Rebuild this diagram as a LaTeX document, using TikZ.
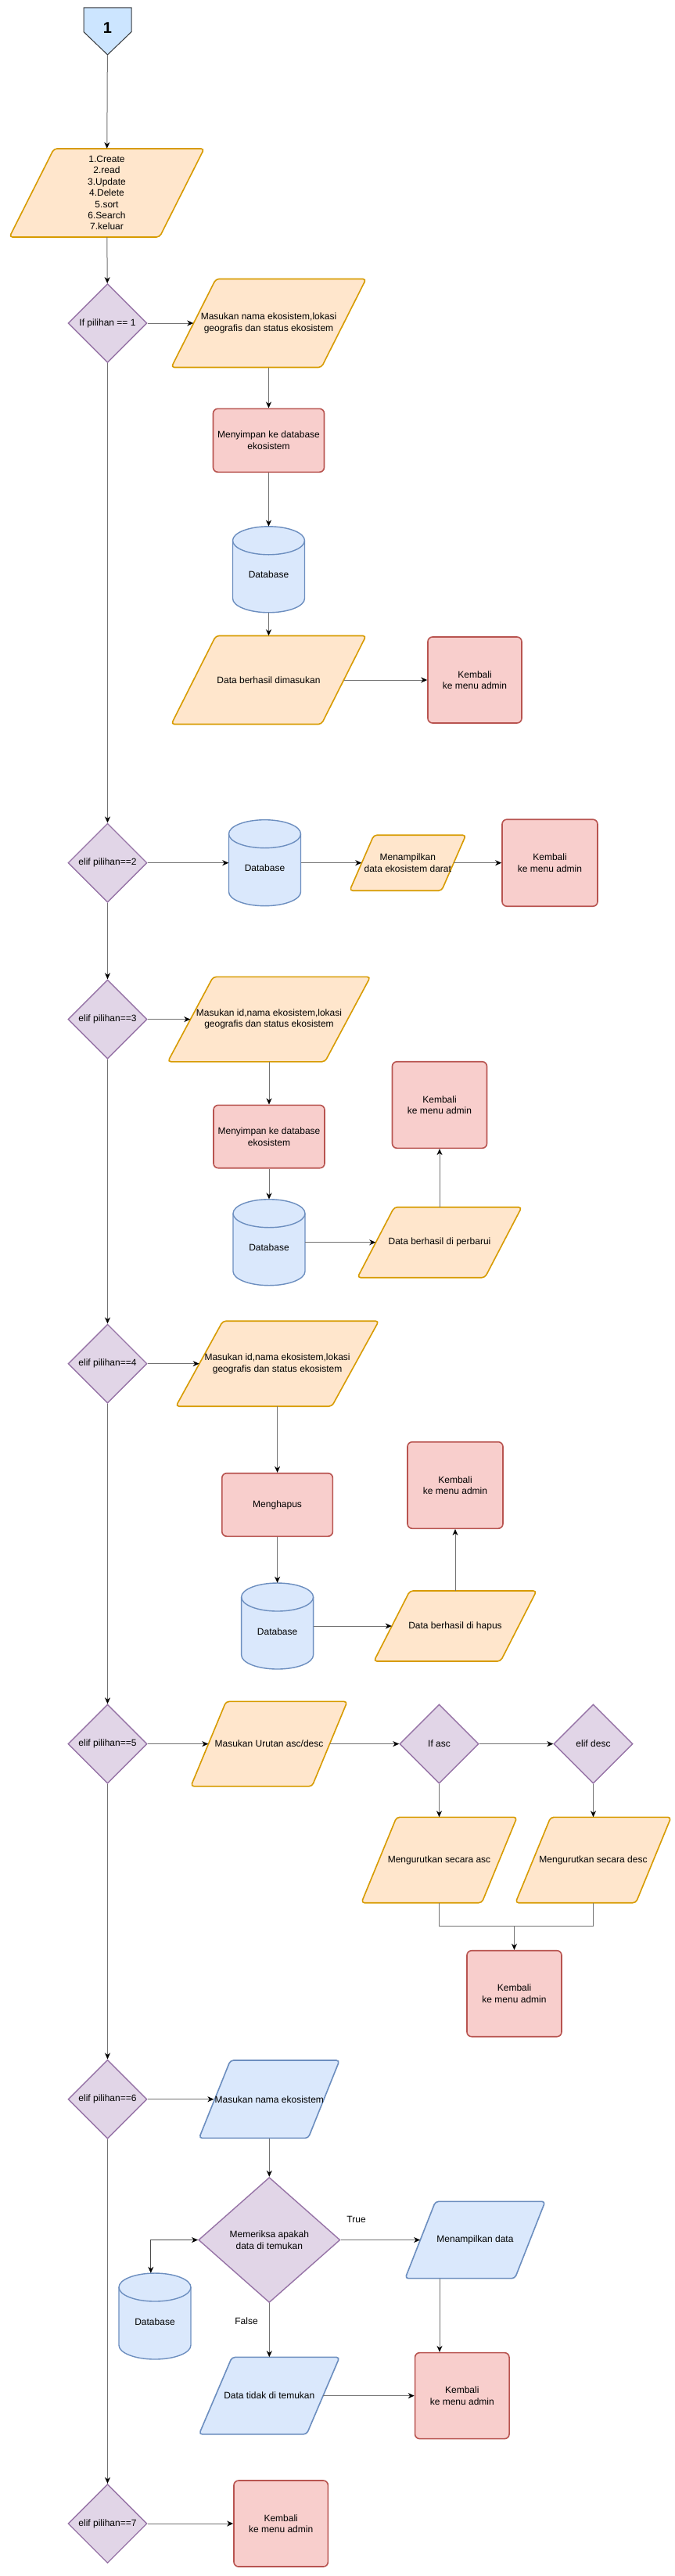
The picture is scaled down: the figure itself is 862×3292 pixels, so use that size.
\documentclass[tikz,border=0pt]{standalone}
\usepackage{fontspec}
\setmainfont{Liberation Sans}
\usetikzlibrary{arrows.meta,shapes.geometric}

\definecolor{orfill}{HTML}{FFE6CC}
\definecolor{orline}{HTML}{D79B00}
\definecolor{rdfill}{HTML}{F8CECC}
\definecolor{rdline}{HTML}{B85450}
\definecolor{blfill}{HTML}{DAE8FC}
\definecolor{blline}{HTML}{6C8EBF}
\definecolor{pufill}{HTML}{E1D5E7}
\definecolor{puline}{HTML}{9673A6}
\definecolor{pgfill}{HTML}{CCE5FF}
\definecolor{pgline}{HTML}{36393D}

\tikzset{
  flow/.style={draw=black!55, line width=1pt, -{Stealth[length=8pt,width=7pt,inset=2.5pt,color=black]}},
  flowboth/.style={draw=black!70, line width=1pt, {Stealth[length=8pt,width=7pt,inset=2.5pt,color=black]}-{Stealth[length=8pt,width=7pt,inset=2.5pt,color=black]}},
  joinline/.style={draw=black!55, line width=1pt},
  process/.style={rectangle, rounded corners=6pt, draw=rdline, fill=rdfill, line width=1.6pt, align=center},
  decision/.style={diamond, aspect=1, draw=puline, fill=pufill, line width=1.4pt, inner sep=1pt,
    minimum width=101pt, minimum height=101pt, align=center},
  orio/.style={draw=orline, fill=orfill},
  blio/.style={draw=blline, fill=blfill},
  iotext/.style={inner sep=1pt, align=center},
  dbbody/.style={draw=blline, fill=blfill, line width=1.4pt},
}

% input/output box: name, cx, cy, width, height, slant, colour, text
\newcommand{\ioshape}[8]{%
  \path[#7, line width=1.6pt, rounded corners=4pt]
    ({#2-#4/2+#6},{#3-#5/2}) -- ({#2+#4/2},{#3-#5/2}) -- ({#2+#4/2-#6},{#3+#5/2}) -- ({#2-#4/2},{#3+#5/2}) -- cycle;
  \node[iotext, minimum width={#4-#6}, minimum height=#5] (#1) at (#2,#3) {#8};
}

% database cylinder: name, cx, cy
\newcommand{\dbshape}[3]{%
  \path[dbbody] ({#2-46},{#3-37}) -- ({#2-46},{#3+37})
    arc[start angle=180, end angle=360, x radius=46pt, y radius=18pt]
    -- ({#2+46},{#3-37})
    arc[start angle=0, end angle=180, x radius=46pt, y radius=18pt] -- cycle;
  \draw[dbbody, fill=none] ({#2-46},{#3-37})
    arc[start angle=180, end angle=360, x radius=46pt, y radius=18pt];
  \node[minimum width=92pt, minimum height=110pt, text height=22pt, text depth=0pt] (#1) at (#2,#3) {Database};
}

\begin{document}
\begin{tikzpicture}[x=1pt, y=-1pt, font=\fontsize{12}{14.4}\selectfont]
  \useasboundingbox (0,0) rectangle (862,3292);

  % Start connector
  \path[draw=pgline, fill=pgfill, line width=1pt]
    (107,10) -- (168,10) -- (168,40.7) -- (137.5,70) -- (107,40.7) -- cycle;
  \node[font=\fontsize{20}{24}\selectfont\bfseries, minimum width=61pt, minimum height=60pt,
    inner sep=0pt, text depth=8pt] (start) at (137.5,40) {1};

  % Menu
  \ioshape{menu}{136.5}{246.5}{249}{113}{57}{orio}{1.Create\\2.read\\3.Update\\4.Delete\\5.sort\\6.Search\\7.keluar}

  % Pilihan 1
  \node[decision] (d1) at (137.5,413) {If pilihan == 1};
  \ioshape{in1}{343.5}{413}{249}{113}{57}{orio}{Masukan nama ekosistem,lokasi\\geografis dan status ekosistem}
  \node[process, minimum width=142pt, minimum height=81pt] (save1) at (343.5,562.8) {Menyimpan ke database\\ekosistem};
  \dbshape{db1}{343.5}{727.8}
  \ioshape{out1}{343.5}{869}{249}{113}{57}{orio}{Data berhasil dimasukan}
  \node[process, minimum width=120pt, minimum height=110pt] (back1) at (607,869) {Kembali\\ke menu admin};

  % Pilihan 2
  \node[decision] (d2) at (137.5,1102.7) {elif pilihan==2};
  \dbshape{db2}{338.5}{1102.7}
  \ioshape{show2}{521.3}{1102.7}{148.6}{71}{31}{orio}{Menampilkan\\data ekosistem darat}
  \node[process, minimum width=122pt, minimum height=111pt] (back2) at (703,1102.7) {Kembali\\ke menu admin};

  % Pilihan 3
  \node[decision] (d3) at (137.5,1302.6) {elif pilihan==3};
  \ioshape{in3}{344}{1302.6}{259}{108.4}{58}{orio}{Masukan id,nama ekosistem,lokasi\\geografis dan status ekosistem}
  \node[process, minimum width=142pt, minimum height=80.4pt] (save3) at (344,1452.5) {Menyimpan ke database\\ekosistem};
  \dbshape{db3}{344}{1587.7}
  \ioshape{out3}{562}{1587.7}{210}{90}{47}{orio}{Data berhasil di perbarui}
  \node[process, minimum width=121pt, minimum height=110.6pt] (back3) at (562,1412) {Kembali\\ke menu admin};

  % Pilihan 4
  \node[decision] (d4) at (137.5,1742.7) {elif pilihan==4};
  \ioshape{in4}{354.6}{1742.7}{259.4}{109}{60}{orio}{Masukan id,nama ekosistem,lokasi\\geografis dan status ekosistem}
  \node[process, minimum width=141.6pt, minimum height=80.6pt] (del4) at (354.6,1923) {Menghapus};
  \dbshape{db4}{354.6}{2078}
  \ioshape{out4}{582}{2078}{208}{90}{46}{orio}{Data berhasil di hapus}
  \node[process, minimum width=122pt, minimum height=110.6pt] (back4) at (582,1898) {Kembali\\ke menu admin};

  % Pilihan 5
  \node[decision] (d5) at (137.5,2228.6) {elif pilihan==5};
  \ioshape{in5}{344}{2228.6}{200}{108.4}{45}{orio}{Masukan Urutan asc/desc}
  \node[decision] (asc) at (561.5,2228.6) {If asc};
  \node[decision] (desc) at (758.5,2228.6) {elif desc};
  \ioshape{sortasc}{561.5}{2377}{199}{109.4}{45}{orio}{Mengurutkan secara asc}
  \ioshape{sortdesc}{758.5}{2377}{199}{109.4}{45}{orio}{Mengurutkan secara desc}
  \node[process, minimum width=121pt, minimum height=110pt] (back5) at (657.5,2547.7) {Kembali\\ke menu admin};
  \coordinate (merge) at (657.5,2461.7);

  % Pilihan 6
  \node[decision] (d6) at (137.5,2682.7) {elif pilihan==6};
  \ioshape{in6}{344.3}{2682.7}{179.6}{99.4}{40}{blio}{Masukan nama ekosistem}
  \node[decision, minimum width=181pt, minimum height=160pt] (chk) at (344.3,2862.5) {Memeriksa apakah\\data di temukan};
  \ioshape{found}{607.5}{2862.5}{179}{98.3}{38.7}{blio}{Menampilkan data}
  \dbshape{db5}{198}{2960}
  \ioshape{notfound}{344.3}{3061.6}{179.6}{98.4}{42}{blio}{Data tidak di temukan}
  \node[process, minimum width=120.5pt, minimum height=110pt] (back6) at (590.8,3061.6) {Kembali\\ke menu admin};
  \node (ltrue) at (455.6,2836) {True};
  \node (lfalse) at (315,2966) {False};
  \coordinate (fx) at (562,0);
  \coordinate (dbx) at (192.8,0);

  % Pilihan 7
  \node[decision] (d7) at (137.5,3225) {elif pilihan==7};
  \node[process, minimum width=120.4pt, minimum height=110pt] (back7) at (359.2,3225) {Kembali\\ke menu admin};

  % Main line
  \draw[flow] (start) -- (menu);
  \draw[flow] (menu) -- (d1);
  \draw[flow] (d1) -- (d2);
  \draw[flow] (d2) -- (d3);
  \draw[flow] (d3) -- (d4);
  \draw[flow] (d4) -- (d5);
  \draw[flow] (d5) -- (d6);
  \draw[flow] (d6) -- (d7);

  % Branches
  \draw[flow] (d1) -- (in1.west);
  \draw[flow] (in1) -- (save1);
  \draw[flow] (save1) -- (db1);
  \draw[flow] (db1) -- (out1);
  \draw[flow] (out1.east) -- (back1);

  \draw[flow] (d2) -- (db2);
  \draw[flow] (db2) -- (show2.west);
  \draw[flow] (show2.east) -- (back2);

  \draw[flow] (d3) -- (in3.west);
  \draw[flow] (in3) -- (save3);
  \draw[flow] (save3) -- (db3);
  \draw[flow] (db3) -- (out3.west);
  \draw[flow] (out3) -- (back3);

  \draw[flow] (d4) -- (in4.west);
  \draw[flow] (in4) -- (del4);
  \draw[flow] (del4) -- (db4);
  \draw[flow] (db4) -- (out4.west);
  \draw[flow] (out4) -- (back4);

  \draw[flow] (d5) -- (in5.west);
  \draw[flow] (in5.east) -- (asc);
  \draw[flow] (asc) -- (desc);
  \draw[flow] (asc) -- (sortasc);
  \draw[flow] (desc) -- (sortdesc);
  \draw[joinline] (sortasc.south) |- (merge) -| (sortdesc.south);
  \draw[flow] (merge) -- (back5);

  \draw[flow] (d6) -- (in6.west);
  \draw[flow] (in6) -- (chk);
  \draw[flow] (chk) -- (found.west);
  \draw[flowboth] (db5.north -| dbx) |- (chk.west);
  \draw[flow] (chk) -- (notfound);
  \draw[flow] (notfound.east) -- (back6);
  \draw[flow] (found.south -| fx) -- (back6.north -| fx);

  \draw[flow] (d7) -- (back7);
\end{tikzpicture}
\end{document}
